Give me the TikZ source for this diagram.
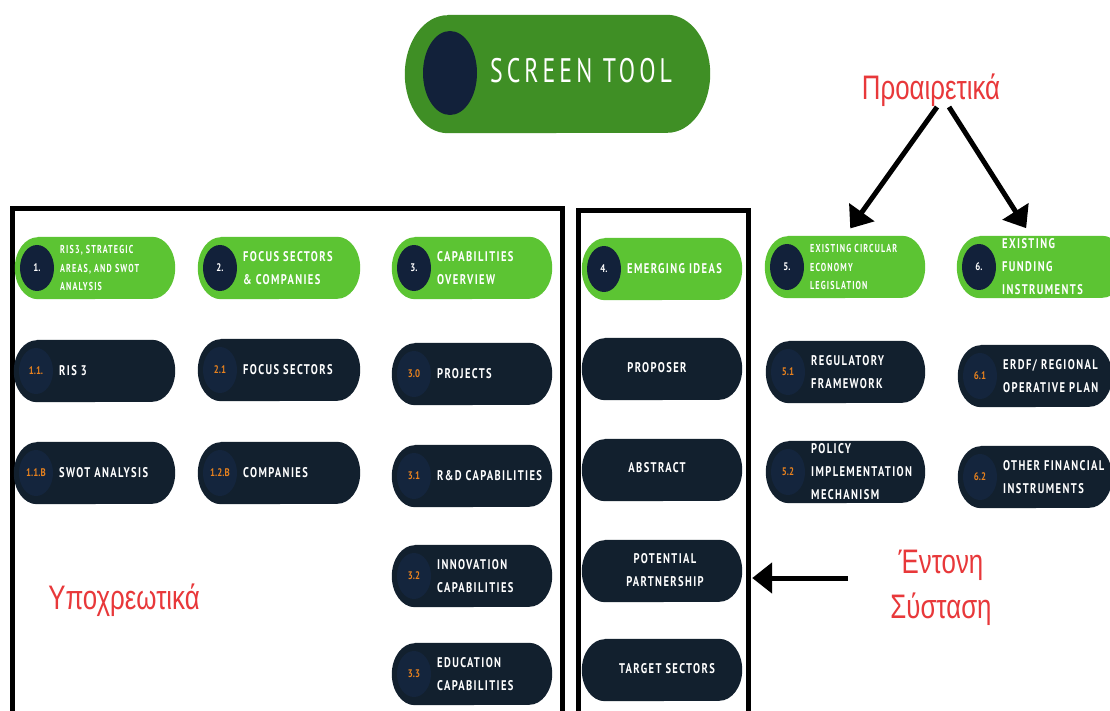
\documentclass[tikz,border=0pt]{standalone}
\usepackage{fontspec}
\setmainfont{PT Sans}
\newfontfamily\pillfont[FakeStretch=0.75,LetterSpace=10]{PT Sans}
\newfontfamily\smallpillfont[FakeStretch=0.7,LetterSpace=10]{PT Sans}
\newfontfamily\numfont[FakeStretch=0.8]{PT Sans}
\newfontfamily\titlefont[FakeStretch=0.7,LetterSpace=12]{PT Sans}
\newfontfamily\greekfont[FakeStretch=0.76]{Liberation Sans}
\usetikzlibrary{shapes.geometric,arrows.meta}
\definecolor{navy}{HTML}{12202E}
\definecolor{navyin}{HTML}{14253D}
\definecolor{lgreen}{HTML}{5CC433}
\definecolor{dgreen}{HTML}{3F8F25}
\definecolor{circ}{HTML}{12213A}
\definecolor{orng}{HTML}{E8821E}
\definecolor{gred}{HTML}{E8383A}
\colorlet{gcol}{lgreen}
\colorlet{dcol}{navy}
\tikzset{
  pillbox/.style={rectangle, minimum height=62pt, inner sep=0pt, draw=none},
  dotshape/.style={ellipse, minimum width=34pt, minimum height=46pt, inner sep=0pt},
  gdot/.style={dotshape, fill=circ, text=white, font=\numfont\bfseries\fontsize{11}{12}\selectfont},
  ddot/.style={dotshape, fill=navyin, text=orng, font=\numfont\bfseries\fontsize{11}{12}\selectfont},
  gtxt/.style={anchor=west, text=white, align=left, inner sep=0pt, font=\pillfont\bfseries\fontsize{14}{23}\selectfont},
  dtxt/.style={gtxt},
  smalltxt/.style={font=\smallpillfont\bfseries\fontsize{11.5}{18.5}\selectfont},
  ctxt/.style={text=white, align=center, inner sep=0pt, font=\pillfont\bfseries\fontsize{14}{23}\selectfont},
  frame/.style={line width=5pt, black},
  arr/.style={line width=5pt, black, -{Triangle[length=20pt,width=30pt]}},
  greek/.style={text=gred, font=\greekfont\fontsize{34}{45}\selectfont, align=center, inner sep=0pt}
}
% pill body with squeezed (elliptical) ends: node name, colour, x radius, y radius
\newcommand\pillfill[4]{%
  \fill[#2] ([xshift=#3]#1.north west) -- ([xshift=-#3]#1.north east)
    arc[start angle=90,end angle=-90,x radius=#3,y radius=#4]
    -- ([xshift=#3]#1.south west)
    arc[start angle=270,end angle=90,x radius=#3,y radius=#4] -- cycle;
}
% [text options] name, kind (g/d), left x, right x, centre y, number, text
\newcommand\mkpill[8][]{%
  \node[pillbox, minimum width={#5-#4}] (#2) at ({(#4+#5)/2},#6) {};
  \pillfill{#2}{#3col}{23pt}{31pt}
  \node[#3dot] (#2n) at ({#4+22},#6) {#7};
  \node[#3txt,#1] (#2t) at ({#4+45},#6) {#8};
}
\begin{document}
\begin{tikzpicture}[x=1pt,y=-1pt]
\useasboundingbox (0,0) rectangle (1110,711);
\fill[white] (0,0) rectangle (1110,711);

% title
\node[rectangle, minimum width=305pt, minimum height=118pt, inner sep=0pt] (title) at (557.5,74) {};
\pillfill{title}{dgreen}{43pt}{59pt}
\node[ellipse, fill=circ, minimum width=54pt, minimum height=84pt, inner sep=0pt] (titledot) at (450,73) {};
\node[text=white, inner sep=0pt, font=\titlefont\fontsize{34}{40}\selectfont] (titletxt) at (581,71) {SCREEN TOOL};

% frames
\draw[frame] (12,725) -- (12,209) -- (562,209) -- (562,725);
\draw[frame] (578,725) -- (578,211) -- (748,211) -- (748,725);

% green row
\mkpill[smalltxt]{g1}{g}{15}{175}{268}{1.}{RIS3, STRATEGIC\\AREAS, AND SWOT\\ANALYSIS}
\mkpill{g2}{g}{198}{360}{268}{2.}{FOCUS SECTORS\\\& COMPANIES}
\mkpill{g3}{g}{392}{552}{268}{3.}{CAPABILITIES\\OVERVIEW}
\mkpill{g4}{g}{582}{742}{269}{4.}{EMERGING IDEAS}
\mkpill[smalltxt]{g5}{g}{765}{925}{267}{5.}{EXISTING CIRCULAR\\ECONOMY\\LEGISLATION}
\mkpill{g6}{g}{957}{1125}{267}{6.}{EXISTING\\FUNDING\\INSTRUMENTS}

% dark rows
\mkpill{d11}{d}{14}{175}{371}{1.1.}{RIS 3}
\mkpill{d21}{d}{198}{360}{370}{2.1}{FOCUS SECTORS}
\mkpill{d30}{d}{392}{552}{374}{3.0}{PROJECTS}
\mkpill{d51}{d}{766}{925}{372}{5.1}{REGULATORY\\FRAMEWORK}
\mkpill{d61}{d}{958}{1112}{376}{6.1}{ERDF/ REGIONAL\\OPERATIVE PLAN}

\mkpill{d11b}{d}{14}{175}{473}{1.1.B}{SWOT ANALYSIS}
\mkpill{d12b}{d}{198}{360}{473}{1.2.B}{COMPANIES}
\mkpill{d31}{d}{392}{552}{476}{3.1}{R\&D CAPABILITIES}
\mkpill{d52}{d}{766}{925}{472}{5.2}{POLICY\\IMPLEMENTATION\\MECHANISM}
\mkpill{d62}{d}{958}{1112}{477}{6.2}{OTHER FINANCIAL\\INSTRUMENTS}

\mkpill{d32}{d}{392}{552}{576}{3.2}{INNOVATION\\CAPABILITIES}
\mkpill{d33}{d}{392}{552}{674}{3.3}{EDUCATION\\CAPABILITIES}

% middle column without numbers
\node[pillbox, minimum width=160pt] (prop) at (662,369) {};
\pillfill{prop}{navy}{23pt}{31pt}
\node[ctxt] (propt) at (657,368) {PROPOSER};
\node[pillbox, minimum width=160pt] (abs) at (662,470) {};
\pillfill{abs}{navy}{23pt}{31pt}
\node[ctxt] (abst) at (657,468) {ABSTRACT};
\node[pillbox, minimum width=160pt] (pp) at (662,571) {};
\pillfill{pp}{navy}{23pt}{31pt}
\node[ctxt] (ppt) at (665,570) {POTENTIAL\\PARTNERSHIP};
\node[pillbox, minimum width=160pt] (ts) at (662,670) {};
\pillfill{ts}{navy}{23pt}{31pt}
\node[ctxt] (tst) at (667,669) {TARGET SECTORS};

% Greek labels
\node[greek] (opt) at (931,90) {Προαιρετικά};
\node[greek] (mand) at (124,600) {Υποχρεωτικά};
\node[greek] (strong) at (941,588) {Έντονη\\Σύσταση};

% arrows
\coordinate (optl) at (937,107);
\coordinate (optr) at (949,107);
\draw[arr, shorten >=9pt] (optl) -- (g5.north);
\draw[arr, shorten >=9pt] (optr) -- (g6.north -| 1031,0);
\coordinate (strongtail) at (848,578);
\draw[arr, shorten >=10pt] (strongtail) -- (strongtail -| pp.east);
\end{tikzpicture}
\end{document}
